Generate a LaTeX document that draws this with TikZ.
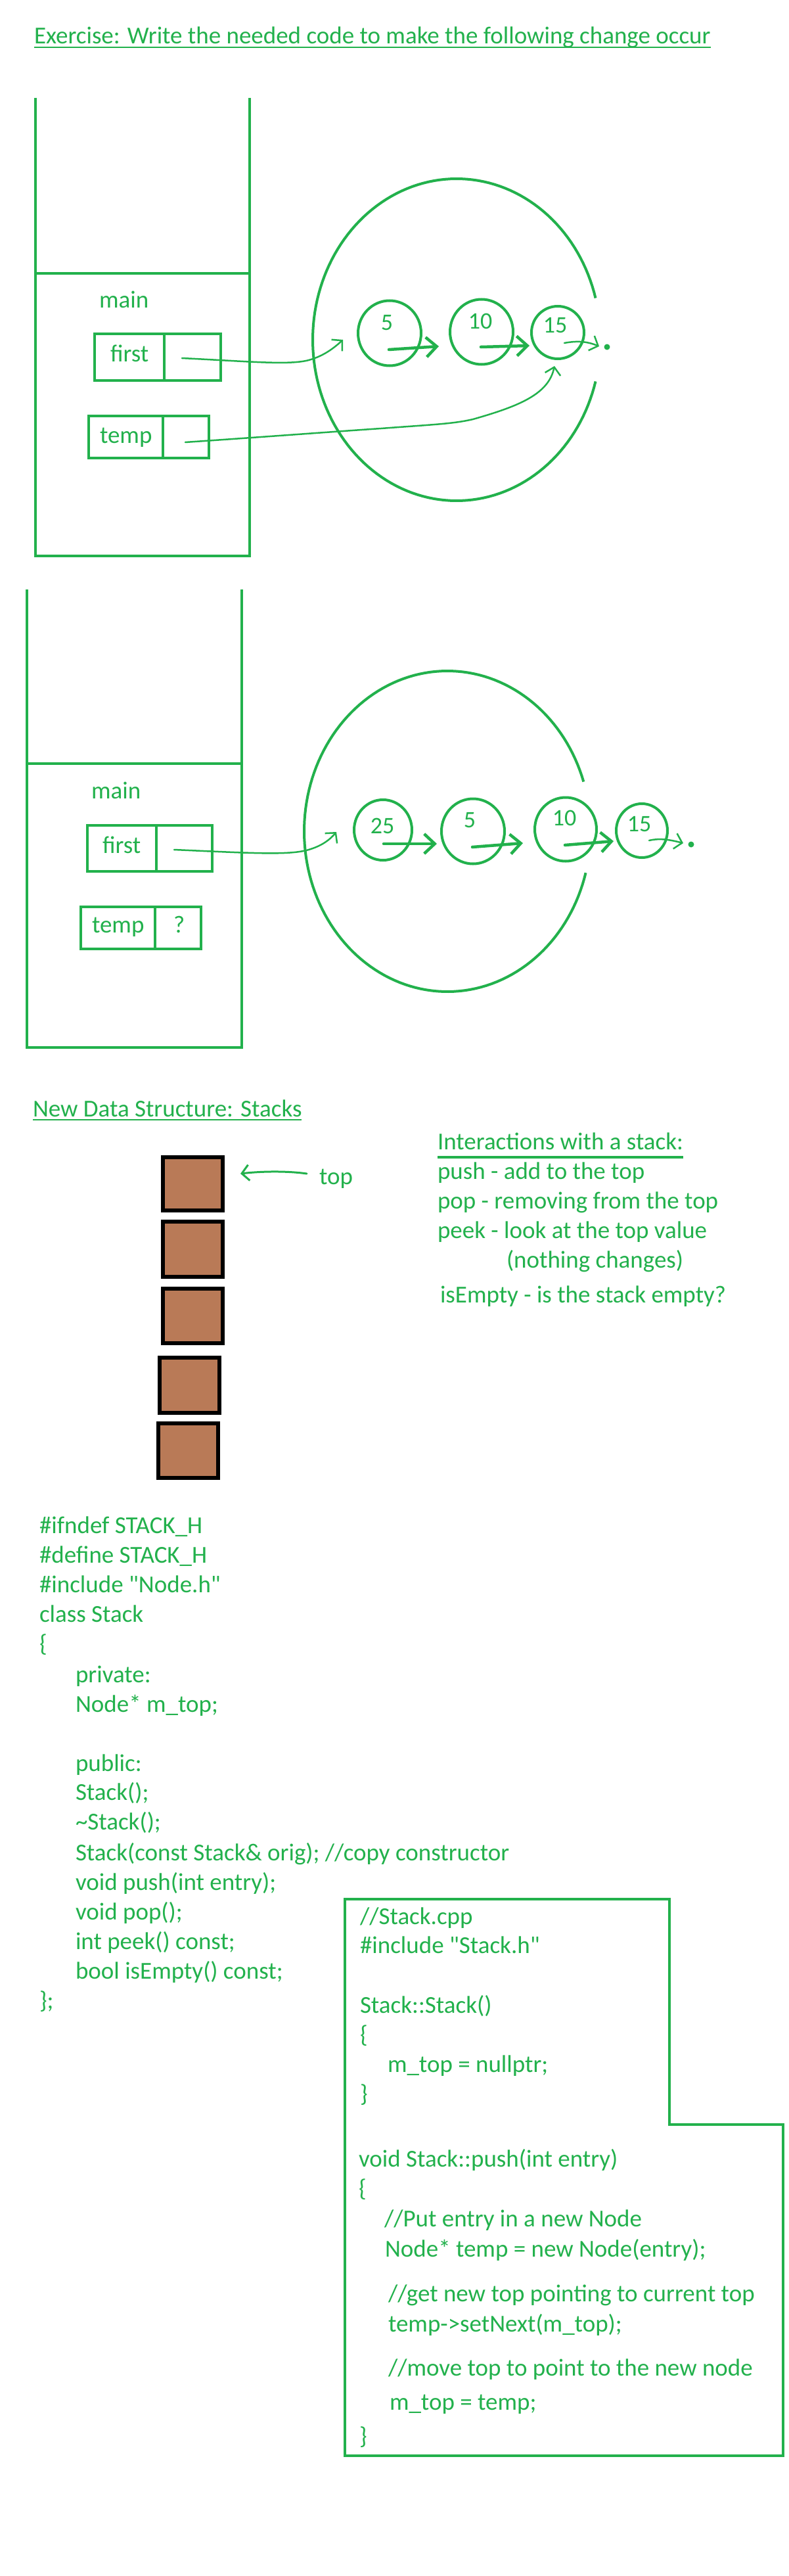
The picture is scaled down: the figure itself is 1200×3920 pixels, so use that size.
\documentclass[tikz,border=0pt]{standalone}
\usepackage{fontspec}
\setmainfont{Carlito}[Ligatures=TeXOff]
\usetikzlibrary{arrows.meta,shapes.geometric,calc}
\definecolor{pgreen}{HTML}{22B14C}
\definecolor{pbrown}{HTML}{B97A57}
\begin{document}
\begin{tikzpicture}[x=1pt,y=-1pt,
  every node/.style={inner sep=0pt,outer sep=0pt,text=pgreen,font=\fontsize{37}{44}\selectfont},
  txt/.style={anchor=base west},
  frame/.style={draw=pgreen,line width=4.5pt},
  cellbox/.style={draw=pgreen,line width=4pt,rectangle},
  lnode/.style={draw=pgreen,line width=4pt,ellipse},
  num/.style={font=\fontsize{36}{40}\selectfont},
  bigarrow/.style={draw=pgreen,line width=4.5pt,line cap=round,-{Straight Barb[length=16pt,width=30pt]}},
  thinarrow/.style={draw=pgreen,line width=2.5pt,line cap=round,-{Straight Barb[length=11pt,width=24pt]}},
  stackbox/.style={draw=black,fill=pbrown,line width=6pt},
  uline/.style={draw=pgreen,line width=2pt},
]
\useasboundingbox (0,0) rectangle (1200,3920);
\fill[white] (0,0) rectangle (1200,3920);

% ---------- title ----------
\node[txt] (title) at (52,67) {Exercise: Write the needed code to make the following change occur};
\draw[uline] ($(title.base west)+(0,5)$) -- ($(title.base east)+(0,5)$);

% ---------- diagram 1 ----------
\draw[frame] (54,149) -- (54,846) -- (380,846) -- (380,149);
\draw[frame] (54,416) -- (380,416);
\node[txt] (main1) at (151,468) {main};
\node[cellbox,minimum width=192,minimum height=71] (fbox1) at (240,543.5) {};
\draw[draw=pgreen,line width=4pt] (fbox1.north -| 250,0) -- (fbox1.south -| 250,0);
\node[txt] (ftxt1) at (168,550) {first};
\node[cellbox,minimum width=183,minimum height=64] (tbox1) at (226.5,665) {};
\draw[draw=pgreen,line width=4pt] (tbox1.north -| 248,0) -- (tbox1.south -| 248,0);
\node[txt] (ttxt1) at (152,674) {temp};

\draw[frame,line width=4pt] plot[domain=15:345,samples=150] ({695+219*cos(\x)},{517+245*sin(\x)});

\node[lnode,minimum width=96,minimum height=99] (a5) at (593,507) {};
\node[lnode,minimum width=96,minimum height=99] (a10) at (733,505) {};
\node[lnode,minimum width=80,minimum height=80] (a15) at (849,506) {};
\node[num] (la5) at (589,491) {5};
\node[num] (la10) at (731,489) {10};
\node[num] (la15) at (845,495) {15};

\coordinate (a5s) at (592,532);
\coordinate (a10t) at (668,527);
\coordinate (a10s) at (732,528);
\coordinate (a15t) at (806,526);
\coordinate (a15s) at (859,522);
\coordinate (anull) at (912,527);
\draw[bigarrow] (a5s) -- (a10t);
\draw[bigarrow] (a10s) -- (a15t);
\draw[thinarrow] (a15s) .. controls (880,518) and (895,520) .. (anull);
\fill[pgreen] (924,528) circle (4.5);

\coordinate (f1s) at (277,545);
\coordinate (f1t) at (522,517);
\draw[thinarrow] (f1s) .. controls (380,550) and (440,556) .. (470,548) .. controls (492,542) and (508,530) .. (f1t);
\coordinate (t1s) at (282,673);
\coordinate (t1t) at (844,557);
\draw[thinarrow] (t1s) .. controls (400,665) and (520,656) .. (580,652) .. controls (660,646) and (690,645) .. (720,638) .. controls (790,618) and (835,600) .. (t1t);

% ---------- diagram 2 ----------
\draw[frame] (41,897) -- (41,1594) -- (368,1594) -- (368,897);
\draw[frame] (41,1162) -- (368,1162);
\node[txt] (main2) at (139,1215) {main};
\node[cellbox,minimum width=190,minimum height=70] (fbox2) at (228,1291) {};
\draw[draw=pgreen,line width=4pt] (fbox2.north -| 238,0) -- (fbox2.south -| 238,0);
\node[txt] (ftxt2) at (156,1298) {first};
\node[cellbox,minimum width=183,minimum height=64] (tbox2) at (214.5,1412) {};
\draw[draw=pgreen,line width=4pt] (tbox2.north -| 236,0) -- (tbox2.south -| 236,0);
\node[txt] (ttxt2) at (140,1419) {temp};
\node[txt] (qtxt2) at (264,1419) {?};

\draw[frame,line width=4pt] plot[domain=15:342,samples=150] ({681+218*cos(\x)},{1265+244*sin(\x)});

\node[lnode,minimum width=88,minimum height=92] (b25) at (583,1263) {};
\node[lnode,minimum width=96,minimum height=99] (b5) at (720,1265) {};
\node[lnode,minimum width=94,minimum height=97] (b10) at (861,1262) {};
\node[lnode,minimum width=78,minimum height=82] (b15) at (977,1264) {};
\node[num] (lb25) at (582,1257) {25};
\node[num] (lb5) at (715,1248) {5};
\node[num] (lb10) at (859,1245) {10};
\node[num] (lb15) at (973,1254) {15};

\coordinate (b25s) at (584,1284);
\coordinate (b5t) at (665,1284);
\coordinate (b5s) at (719,1289);
\coordinate (b10t) at (796,1283);
\coordinate (b10s) at (860,1286);
\coordinate (b15t) at (934,1280);
\coordinate (b15s) at (988,1279);
\coordinate (bnull) at (1040,1283);
\draw[bigarrow] (b25s) -- (b5t);
\draw[bigarrow] (b5s) -- (b10t);
\draw[bigarrow] (b10s) -- (b15t);
\draw[thinarrow] (b15s) .. controls (1005,1275) and (1020,1278) .. (bnull);
\fill[pgreen] (1052,1285) circle (4.5);

\coordinate (f2s) at (265,1293);
\coordinate (f2t) at (512,1266);
\draw[thinarrow] (f2s) .. controls (380,1298) and (440,1302) .. (470,1293) .. controls (490,1287) and (502,1278) .. (f2t);

% ---------- stacks ----------
\node[txt] (stitle) at (50,1699) {New Data Structure: Stacks};
\draw[uline] ($(stitle.base west)+(0,5)$) -- ($(stitle.base east)+(0,5)$);

\node[stackbox,minimum width=91,minimum height=81] (s1) at (293.5,1801.5) {};
\node[stackbox,minimum width=91,minimum height=84] (s2) at (293.5,1901) {};
\node[stackbox,minimum width=91,minimum height=83] (s3) at (293.5,2002.5) {};
\node[stackbox,minimum width=91,minimum height=84] (s4) at (288.5,2108) {};
\node[stackbox,minimum width=91,minimum height=83] (s5) at (286.5,2207.5) {};

\node[txt] (toptxt) at (486,1802) {top};
\coordinate (tops) at (467,1786);
\coordinate (topt) at (366,1786);
\draw[thinarrow,line width=3pt] (tops) .. controls (440,1782) and (400,1782) .. (topt);

\node[txt] (itxt) at (666,1749) {Interactions with a stack:};
\draw[draw=pgreen,line width=4pt] ($(itxt.base west)+(0,12)$) -- ($(itxt.base east)+(0,12)$);
\node[txt] (ipush) at (666,1794) {push - add to the top};
\node[txt] (ipop) at (666,1839) {pop - removing from the top};
\node[txt] (ipeek) at (666,1884) {peek - look at the top value};
\node[txt] (inoth) at (771,1929) {(nothing changes)};
\node[txt] (iempty) at (670,1982) {isEmpty - is the stack empty?};

% ---------- header code ----------
\node[txt] (h1) at (60,2333) {\#ifndef STACK\_H};
\node[txt] (h2) at (60,2378) {\#define STACK\_H};
\node[txt] (h3) at (60,2423) {\#include "Node.h"};
\node[txt] (h4) at (60,2468) {class Stack};
\node[txt] (h5) at (60,2513) {\{};
\node[txt] (h6) at (115,2560) {private:};
\node[txt] (h7) at (115,2605) {Node* m\_top;};
\node[txt] (h8) at (115,2695) {public:};
\node[txt] (h9) at (115,2739) {Stack();};
\node[txt] (h10) at (115,2784) {\textasciitilde Stack();};
\node[txt] (h11) at (115,2831) {Stack(const Stack\& orig); //copy constructor};
\node[txt] (h12) at (115,2876) {void push(int entry);};
\node[txt] (h13) at (115,2921) {void pop();};
\node[txt] (h14) at (115,2966) {int peek() const;};
\node[txt] (h15) at (115,3011) {bool isEmpty() const;};
\node[txt] (h16) at (60,3056) {\};};

% ---------- cpp box ----------
\draw[draw=pgreen,line width=4pt] (525,2890) -- (1019,2890) -- (1019,3233) -- (1192,3233) -- (1192,3737) -- (525,3737) -- cycle;
\node[txt] (c1) at (548,2928) {//Stack.cpp};
\node[txt] (c2) at (548,2972) {\#include "Stack.h"};
\node[txt] (c3) at (548,3063) {Stack::Stack()};
\node[txt] (c4) at (548,3108) {\{};
\node[txt] (c5) at (590,3153) {m\_top = nullptr;};
\node[txt] (c6) at (548,3198) {\}};
\node[txt] (c7) at (546,3297) {void Stack::push(int entry)};
\node[txt] (c8) at (546,3342) {\{};
\node[txt] (c9) at (585,3388) {//Put entry in a new Node};
\node[txt] (c10) at (586,3434) {Node* temp = new Node(entry);};
\node[txt] (c11) at (591,3502) {//get new top pointing to current top};
\node[txt] (c12) at (591,3548) {temp->setNext(m\_top);};
\node[txt] (c13) at (591,3615) {//move top to point to the new node};
\node[txt] (c14) at (593,3667) {m\_top = temp;};
\node[txt] (c15) at (547,3719) {\}};
\end{tikzpicture}
\end{document}
